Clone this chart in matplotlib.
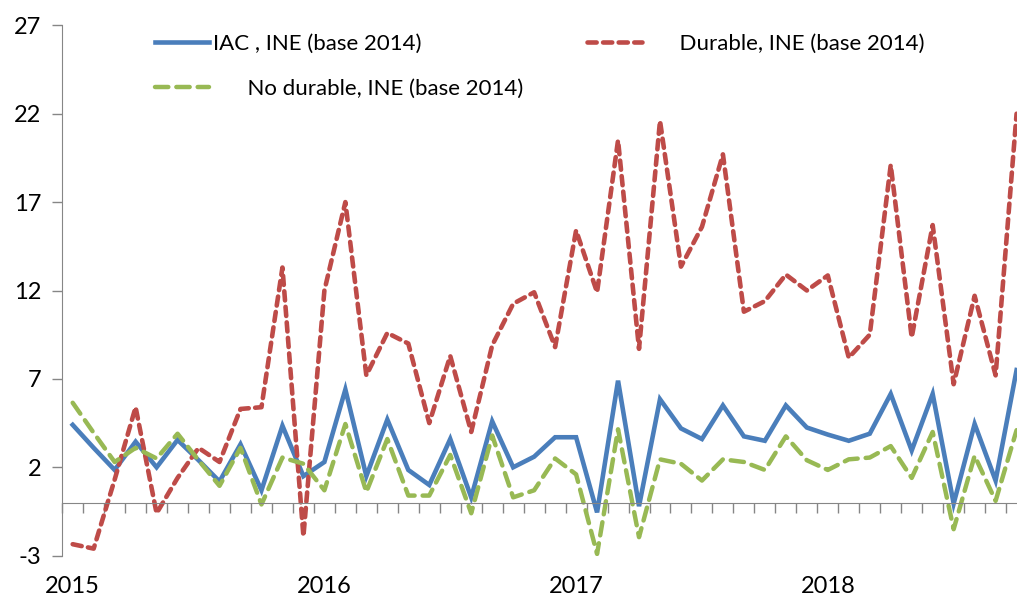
import matplotlib
matplotlib.use("Agg")
import matplotlib.pyplot as plt
import numpy as np

years = ["2015", "2016", "2017", "2018"]
year_index = [0, 12, 24, 36]

iac = [4.4, 3.1, 1.85, 3.45, 2.0, 3.55, 2.4, 1.2, 3.3, 0.7, 4.35, 1.5,
       2.3, 6.4, 1.5, 4.7, 1.85, 1.0, 3.6, 0.3, 4.6, 2.0, 2.6, 3.7,
       3.7, -0.55, 6.9, -0.2, 5.85, 4.2, 3.6, 5.5, 3.75, 3.5, 5.5, 4.25,
       3.85, 3.5, 3.9, 6.15, 2.95, 6.15, -0.05, 4.45, 1.25, 7.5]
durable = [-2.35, -2.6, 1.3, 5.4, -0.6, 1.4, 3.1, 2.3, 5.3, 5.4, 13.3, -1.9,
           12.0, 17.0, 7.2, 9.6, 9.0, 4.5, 8.3, 4.0, 8.9, 11.25, 11.9, 8.8,
           15.4, 11.9, 20.5, 8.7, 21.6, 13.35, 15.6, 19.7, 10.8, 11.4, 12.9, 12.0,
           12.85, 8.2, 9.5, 19.1, 9.35, 15.7, 6.7, 11.7, 7.2, 22.0]
no_durable = [5.65, 3.95, 2.3, 3.1, 2.5, 3.9, 2.4, 0.95, 3.1, -0.1, 2.55, 2.2,
              0.7, 4.45, 0.6, 3.6, 0.4, 0.4, 2.7, -0.6, 3.8, 0.3, 0.7, 2.5,
              1.6, -2.9, 4.15, -1.95, 2.45, 2.2, 1.25, 2.45, 2.3, 1.85, 3.75, 2.4,
              1.85, 2.45, 2.55, 3.2, 1.4, 4.0, -1.5, 2.65, 0.1, 4.1]

labels = ["IAC , INE (base 2014)", "Durable, INE (base 2014)",
          "No durable, INE (base 2014)"]

plt.rcParams["font.family"] = ["Lato", "DejaVu Sans"]
plt.rcParams["axes.unicode_minus"] = False

W, H = 1017, 598
fig = plt.figure(figsize=(W / 100, H / 100), dpi=100)
ax = fig.add_axes([62.2 / W, (H - 555.7) / H, (W - 62.2) / W, (555.7 - 25.3) / H])

x = np.arange(len(iac))
blue = "#4A7EBB"
red = "#BE4B48"
green = "#98B954"

l1, = ax.plot(x, iac, color=blue, lw=3.3, solid_joinstyle="miter")
l2, = ax.plot(x, durable, color=red, lw=3.3, dashes=(2.0, 1.4),
              dash_capstyle="round")
l3, = ax.plot(x, no_durable, color=green, lw=3.2, dashes=(3.0, 1.8),
              dash_capstyle="round")

ax.set_xlim(-0.5, 45.02)
ax.set_ylim(-3, 27)
ax.set_yticks([-3, 2, 7, 12, 17, 22, 27])
ax.tick_params(axis="y", length=7, width=1, color="#868686", pad=8,
               labelsize=17, labelcolor="black")

for s in ["top", "right"]:
    ax.spines[s].set_visible(False)
ax.spines["left"].set_color("#868686")
ax.spines["bottom"].set_color("#868686")
ax.spines["bottom"].set_position(("data", 0))
ax.set_xticks(np.arange(-0.5, 45.5, 1.0))
ax.set_xticklabels([])
ax.tick_params(axis="x", length=7, width=1, color="#868686", direction="out")

for yi, lab in zip(year_index, years):
    ax.text(yi, -0.058, lab, transform=ax.get_xaxis_transform(),
            ha="center", va="center", fontsize=17)

leg_labels = [labels[0], "      " + labels[2], "      " + labels[1]]
fig.legend([l1, l3, l2], leg_labels, loc="upper left",
           bbox_to_anchor=(155 / W, 1 - 34 / H), ncol=2, frameon=False,
           borderaxespad=0, borderpad=0, handlelength=2.45,
           handletextpad=0.15, columnspacing=2.9, labelspacing=1.1,
           fontsize=16)

fig.savefig("out.png", dpi=100, facecolor="white")
